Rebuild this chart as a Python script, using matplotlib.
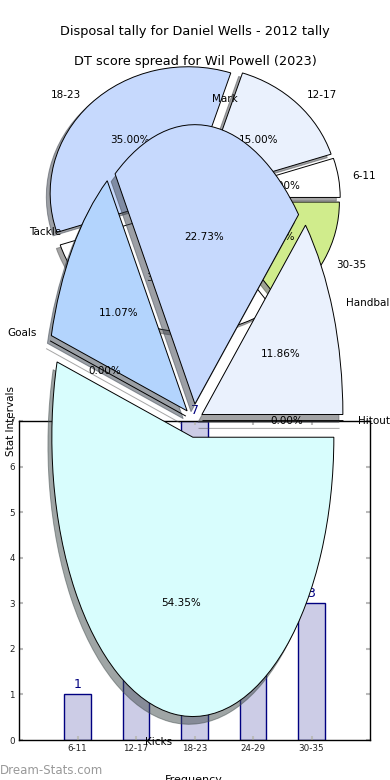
import matplotlib
matplotlib.use('Agg')
import matplotlib.pyplot as plt

# ---- data ----
categories = ['6-11', '12-17', '18-23', '24-29', '30-35']
counts = [1, 3, 7, 6, 3]
stat_labels = ['Hitout', 'Handball', 'Mark', 'Tackle', 'Goals', 'Kicks']
stat_values = [0.0, 11.86, 22.73, 11.07, 0.0, 54.35]
yticks = [0, 1, 2, 3, 4, 5, 6, 7]

title_top = 'Disposal tally for Daniel Wells - 2012 tally'
title_mid = 'DT score spread for Wil Powell (2023)'

pie1_colors = ['#ffffff', '#eaf1fd', '#c6d9fd', '#ffffff', '#d0ec8c']
pie2_colors = ['#ffffff', '#eaf1fd', '#c6d9fd', '#b3d4fd', '#ffffff', '#d8fdfd']

W, H = 390, 780
fig = plt.figure(figsize=(W / 100, H / 100), dpi=100)


def box(x0, y0, x1, y1):
    return [x0 / W, 1 - y1 / H, (x1 - x0) / W, (y1 - y0) / H]


# ---- bar chart ----
axb = fig.add_axes(box(19, 421, 370, 740))
xpos = list(range(len(categories)))
axb.bar(xpos, counts, width=0.45, color='#ccccE6', edgecolor='navy', linewidth=1)
for xi, c in zip(xpos, counts):
    axb.text(xi, c + 0.08, str(c), ha='center', va='bottom', color='navy', fontsize=9)
axb.set_xlim(-1, 5)
axb.set_ylim(0, 7)
axb.set_xticks(xpos)
axb.set_xticklabels(categories, fontsize=6.3, color='#222222')
axb.set_yticks(yticks)
axb.set_yticklabels([str(v) for v in yticks], fontsize=6.3, color='#222222')
axb.tick_params(direction='in', color='#bbbbbb', length=3, width=1.5,
                top=True, right=True, pad=3)
for s in axb.spines.values():
    s.set_linewidth(1)

# ---- pie 1 ----
ax1 = fig.add_axes(box(21.5, 40.5, 366.5, 356.75))
ax1.pie(counts, labels=categories, colors=pie1_colors, explode=[0.06] * len(counts),
        shadow=True, autopct='%.2f%%', startangle=0,
        wedgeprops=dict(edgecolor='black', linewidth=0.7),
        textprops=dict(fontsize=7.5))
ax1.set_aspect('auto')
ax1.set_xlim(-1.25, 1.25)
ax1.set_ylim(-1.25, 1.25)

# ---- pie 2 ----
total2 = sum(stat_values)
ax2 = fig.add_axes(box(17.75, 71.5, 370.25, 769.75))
ax2.pie(stat_values, labels=stat_labels, colors=pie2_colors,
        explode=[0.06] * len(stat_values), shadow=True,
        autopct=lambda p: '%.2f%%' % (p * total2 / 100.0), startangle=0,
        wedgeprops=dict(edgecolor='black', linewidth=0.7),
        textprops=dict(fontsize=7.5))
ax2.set_aspect('auto')
ax2.set_xlim(-1.25, 1.25)
ax2.set_ylim(-1.25, 1.25)
ax2.set_xlabel('Frequency', fontsize=8)
ax2.set_ylabel('Stat Intervals', fontsize=7.5, labelpad=1)

# ---- titles / watermark ----
fig.text(0.5, 1 - 34.5 / H, title_top, ha='center', va='baseline', fontsize=9.3)
fig.text(0.5, 1 - 65.5 / H, title_mid, ha='center', va='baseline', fontsize=9.3)
fig.text(0.0, 1 - 770 / H, 'Dream-Stats.com', ha='left', va='center',
         fontsize=8.5, color='#999999')

fig.savefig('out.png', dpi=100)
